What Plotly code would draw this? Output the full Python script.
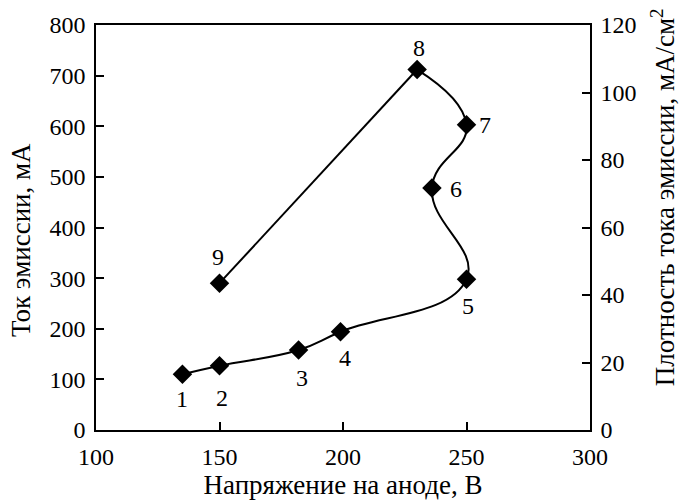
import plotly.graph_objects as go

voltage = [135, 150, 182, 199, 250, 236, 250, 230, 150]
current = [110, 127, 158, 194, 298, 478, 603, 712, 290]
labels = ["1", "2", "3", "4", "5", "6", "7", "8", "9"]
label_dx = [0, 2, 3, 4, 1, 24, 18, 2, -2]
label_dy = [-25, -32, -28, -26, -27, -1, 0, 22, 26]

x_ticks = [100, 150, 200, 250, 300]
y_ticks = [0, 100, 200, 300, 400, 500, 600, 700, 800]
y2_ticks = [0, 20, 40, 60, 80, 100, 120]

x_title = "Напряжение на аноде, В"
y_title = "Ток эмиссии, мА"
y2_title = "Плотность тока эмиссии, мА/см<sup>2</sup>"

FONT = "Liberation Serif"
TICK_SIZE = 24
TITLE_SIZE = 27

fig = go.Figure()
# smooth curve through points 1..8
fig.add_trace(go.Scatter(
    x=voltage[:8], y=current[:8], mode="lines",
    line=dict(color="black", width=2, shape="spline", smoothing=1.3),
    showlegend=False, hoverinfo="skip"))
# straight segment 8 -> 9
fig.add_trace(go.Scatter(
    x=voltage[7:], y=current[7:], mode="lines",
    line=dict(color="black", width=2),
    showlegend=False, hoverinfo="skip"))
fig.add_trace(go.Scatter(
    x=voltage, y=current, mode="markers",
    marker=dict(symbol="diamond", size=15, color="black"),
    showlegend=False, hoverinfo="skip"))
# carrier for the right axis
fig.add_trace(go.Scatter(x=[None], y=[None], yaxis="y2", mode="markers",
                         showlegend=False, hoverinfo="skip"))

for xv, yv, t, dx, dy in zip(voltage, current, labels, label_dx, label_dy):
    fig.add_annotation(x=xv, y=yv, text=t, showarrow=False, xshift=dx, yshift=dy,
                       font=dict(family=FONT, size=TICK_SIZE, color="black"))

# vertical axis titles
fig.add_annotation(xref="paper", yref="paper", x=0, y=0.469, xshift=-75,
                   xanchor="center", yanchor="middle", textangle=-90, showarrow=False,
                   text=y_title, font=dict(family=FONT, size=TITLE_SIZE, color="black"))
fig.add_annotation(xref="paper", yref="paper", x=1, y=0.575, xshift=73,
                   xanchor="center", yanchor="middle", textangle=-90, showarrow=False,
                   text=y2_title, font=dict(family=FONT, size=TITLE_SIZE, color="black"))

axis_common = dict(showgrid=False, zeroline=False, showline=True, linecolor="black",
                   linewidth=1.5, ticks="inside", ticklen=8, tickcolor="black", tickwidth=1.5,
                   tickfont=dict(family=FONT, size=TICK_SIZE, color="black"))

fig.update_layout(
    width=680, height=504,
    margin=dict(l=96, r=90, t=23, b=74),
    plot_bgcolor="white", paper_bgcolor="white",
    xaxis=dict(range=[100, 300], tickvals=x_ticks, mirror=True, ticklabelstandoff=4,
               title=dict(text=x_title, font=dict(family=FONT, size=TITLE_SIZE, color="black"), standoff=2),
               **axis_common),
    yaxis=dict(range=[0, 800], tickvals=y_ticks, ticklabelstandoff=4, **axis_common),
    yaxis2=dict(range=[0, 120], tickvals=y2_ticks, overlaying="y", side="right",
                ticklabelstandoff=4, **axis_common),
)

fig.write_html("out.html")
